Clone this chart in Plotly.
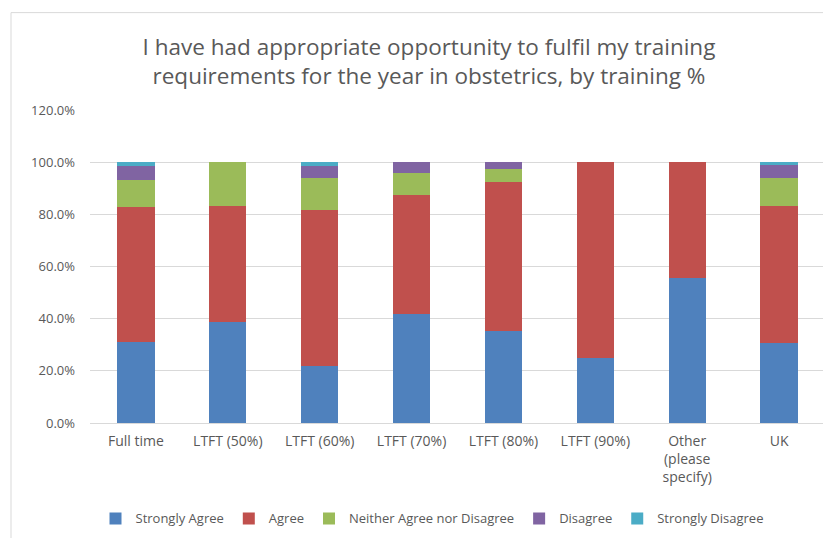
import plotly.graph_objects as go

categories = ["Full time", "LTFT (50%)", "LTFT (60%)", "LTFT (70%)", "LTFT (80%)",
              "LTFT (90%)", "Other<br>(please<br>specify)", "UK"]

strongly_agree = [31.2, 38.9, 22.0, 41.7, 35.3, 25.0, 55.6, 30.8]
agree = [51.6, 44.4, 59.8, 45.8, 57.0, 75.0, 44.4, 52.5]
neither = [10.4, 16.7, 12.0, 8.3, 5.2, 0.0, 0.0, 10.5]
disagree = [5.2, 0.0, 4.6, 4.2, 2.5, 0.0, 0.0, 5.0]
strongly_disagree = [1.6, 0.0, 1.6, 0.0, 0.0, 0.0, 0.0, 1.2]

series_names = ["Strongly Agree", "Agree", "Neither Agree nor Disagree", "Disagree", "Strongly Disagree"]
series_values = [strongly_agree, agree, neither, disagree, strongly_disagree]
colors = ["#4F81BD", "#C0504D", "#9BBB59", "#8064A2", "#4BACC6"]

y_ticks = [0, 0.2, 0.4, 0.6, 0.8, 1.0, 1.2]

FONT = "'Open Sans', Lato, sans-serif"
TXT = "#595959"

# page is offset by the 8px body margin; layout numbers account for that
L, R, T, B = 82, 14, 102, 121
W, H = 831, 538
PW = W - L - R
PH = H - T - B

fig = go.Figure()
for name, vals, col in zip(series_names, series_values, colors):
    fig.add_trace(go.Bar(
        x=categories, y=[v / 100 for v in vals], name=name,
        marker=dict(color=col, line=dict(width=0)),
    ))

fig.update_layout(
    barmode="stack",
    bargap=0.595,
    width=W, height=H,
    margin=dict(l=L, r=R, t=T, b=B),
    paper_bgcolor="white", plot_bgcolor="white",
    font=dict(family=FONT, color=TXT, size=13),
    title=dict(
        text="I have had appropriate opportunity to fulfil my training<br>requirements for the year in obstetrics, by training %",
        x=421 / W, xanchor="center", xref="container",
        y=1 - 47 / H, yanchor="middle",
        font=dict(family=FONT, size=22.5, color=TXT),
    ),
    xaxis=dict(showgrid=False, showline=True, linecolor="#D9D9D9", ticks="",
               ticklabelstandoff=5,
               tickfont=dict(size=14, color=TXT)),
    yaxis=dict(range=[0, 1.2], tickvals=y_ticks, tickformat=".1%",
               showgrid=True, gridcolor="#D9D9D9", zeroline=False,
               showline=False, ticks="", ticklabelstandoff=14,
               tickfont=dict(size=13, color=TXT)),
    legend=dict(orientation="h", x=(424 - L) / PW, xanchor="center", y=-0.305, yanchor="middle",
                font=dict(size=13, color=TXT), traceorder="normal",
                itemwidth=30),
    shapes=[dict(type="rect", xref="paper", yref="paper",
                 x0=(3 - L) / PW, x1=1.2, y0=-0.6, y1=(H - B - 4) / PH,
                 line=dict(color="#D9D9D9", width=1), fillcolor="rgba(0,0,0,0)", layer="below")],
)

fig.write_html("out.html")
